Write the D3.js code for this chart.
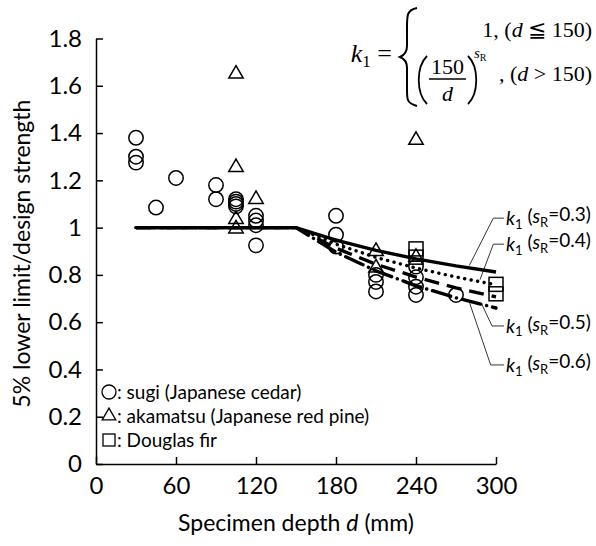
<!DOCTYPE html>
<html><head><meta charset="utf-8">
<script src="https://cdn.jsdelivr.net/npm/d3@7"></script>
<style>body{margin:0;background:#fff}svg{display:block}text{font-family:Lato,"Noto Sans",sans-serif;fill:#000}</style>
</head><body><svg id="c" width="596" height="546"></svg>
<script>
// ---- data ----
const xTicks = [0, 60, 120, 180, 240, 300];
const yTicks = [0, 0.2, 0.4, 0.6, 0.8, 1, 1.2, 1.4, 1.6, 1.8];
const sugiDepth = [30, 30, 30, 45, 60, 90, 90, 105, 105, 105, 105, 120, 120, 120, 120, 180, 180, 180, 210, 210, 210, 240, 240, 240, 240, 270];
const sugiValue = [1.38, 1.30, 1.275, 1.085, 1.21, 1.18, 1.12, 1.12, 1.11, 1.10, 1.09, 1.05, 1.03, 1.01, 0.925, 1.05, 0.97, 0.92, 0.80, 0.77, 0.73, 0.835, 0.79, 0.75, 0.715, 0.715];
const akaDepth = [105, 105, 105, 105, 120, 210, 210, 240, 240];
const akaValue = [1.65, 1.255, 1.035, 0.995, 1.12, 0.90, 0.83, 1.37, 0.875];
const firDepth = [240, 240, 300, 300];
const firValue = [0.91, 0.875, 0.76, 0.72];
const curveDepth = [30, 150, 180, 210, 240, 270, 300];
const k1_s03 = [1, 1, 0.947, 0.904, 0.868, 0.838, 0.812];
const k1_s04 = [1, 1, 0.930, 0.874, 0.829, 0.791, 0.758];
const k1_s05 = [1, 1, 0.913, 0.845, 0.791, 0.745, 0.707];
const k1_s06 = [1, 1, 0.896, 0.817, 0.754, 0.703, 0.660];
const sRLabels = ["0.3", "0.4", "0.5", "0.6"];
const legendLabels = [": sugi (Japanese cedar)", ": akamatsu (Japanese red pine)", ": Douglas fir"];

// ---- chart ----
const svg = d3.select("#c");
const x = d3.scaleLinear().domain([0, 300]).range([96, 496]);
const y = d3.scaleLinear().domain([0, 1.8]).range([464, 38.5]);
const TFS = 24, AFS = 23, LFS = 19;

const xAxis = svg.append("g").attr("transform", `translate(0,${y(0)})`)
  .call(d3.axisBottom(x).tickValues(xTicks).tickSizeInner(-7).tickSizeOuter(0).tickPadding(13));
const yAxis = svg.append("g").attr("transform", `translate(${x(0)},0)`)
  .call(d3.axisLeft(y).tickValues(yTicks).tickSizeInner(-7).tickSizeOuter(0).tickPadding(14)
    .tickFormat(d => String(+d.toFixed(1))));
[xAxis, yAxis].forEach(g => {
  g.selectAll("path,line").attr("stroke", "#000").attr("stroke-width", 1.5);
  g.selectAll("text").attr("font-family", "Lato").attr("font-size", TFS).attr("fill", "#000");
});

// curves
const line = d3.line().x((d, i) => x(curveDepth[i])).y(d => y(d));
const curveStyles = [
  {v: k1_s03, dash: null, cap: "butt"},
  {v: k1_s04, dash: "0.1 6.5", cap: "round"},
  {v: k1_s05, dash: "15 8", cap: "butt"},
  {v: k1_s06, dash: "19 6 0.1 6", cap: "round"}
];
curveStyles.slice().reverse().forEach(c => {
  svg.append("path").attr("d", line(c.v)).attr("fill", "none").attr("stroke", "#000")
    .attr("stroke-width", 3.4).attr("stroke-linecap", c.cap)
    .attr("stroke-dasharray", c.dash);
});
svg.append("path").attr("d", line(k1_s03.slice(0, 2))).attr("stroke", "#000").attr("stroke-width", 3.4).attr("fill", "none");

// markers
const mk = svg.append("g").attr("fill", "none").attr("stroke", "#000").attr("stroke-width", 1.5);
sugiValue.forEach((v, i) => mk.append("circle").attr("cx", x(sugiDepth[i])).attr("cy", y(v)).attr("r", 7.2));
const tri = d3.symbol().type(d3.symbolTriangle).size(90);
akaValue.forEach((v, i) => mk.append("path").attr("d", tri()).attr("transform", `translate(${x(akaDepth[i])},${y(v)})`));
firValue.forEach((v, i) => mk.append("rect").attr("x", x(firDepth[i]) - 7).attr("y", y(v) - 7).attr("width", 14).attr("height", 14));

// annotations for sR curves
const annot = [
  [[280, 0.84], [298, 1.04], [306, 1.04]],
  [[288, 0.78], [298, 0.93], [306, 0.93]],
  [[289, 0.68], [297, 0.584], [306, 0.584]],
  [[280, 0.685], [296, 0.419], [306, 0.419]]
];
const aLine = d3.line().x(d => x(d[0])).y(d => y(d[1]));
annot.forEach((p, i) => {
  svg.append("path").attr("d", aLine(p))
    .attr("fill", "none").attr("stroke", "#000").attr("stroke-width", 0.8);
  const t = svg.append("text").attr("x", x(307.5)).attr("y", y(p[2][1])).attr("dy", "0.35em")
    .attr("font-size", LFS);
  t.append("tspan").attr("font-style", "italic").text("k");
  t.append("tspan").attr("font-size", 13).attr("dy", "0.3em").text("1");
  t.append("tspan").attr("dy", "-0.3em").attr("font-size", LFS).text(" (");
  t.append("tspan").attr("font-style", "italic").text("s");
  t.append("tspan").attr("font-size", 13).attr("dy", "0.3em").text("R");
  t.append("tspan").attr("dy", "-0.3em").attr("font-size", LFS).text("=" + sRLabels[i] + ")");
});

// legend
const lgY = [392, 416, 440];
const lg = svg.append("g");
lg.append("circle").attr("cx", 109).attr("cy", lgY[0]).attr("r", 7).attr("fill", "none").attr("stroke", "#000").attr("stroke-width", 1.3);
lg.append("path").attr("d", d3.symbol().type(d3.symbolTriangle).size(80)()).attr("transform", `translate(109,${lgY[1]})`).attr("fill", "none").attr("stroke", "#000").attr("stroke-width", 1.3);
lg.append("rect").attr("x", 103).attr("y", lgY[2] - 6).attr("width", 12).attr("height", 12).attr("fill", "none").attr("stroke", "#000").attr("stroke-width", 1.3);
legendLabels.forEach((l, i) => lg.append("text").attr("x", 117).attr("y", lgY[i]).attr("dy", "0.35em").attr("font-size", 19).text(l));

// axis titles
const xt = svg.append("text").attr("x", x(150)).attr("y", 531).attr("text-anchor", "middle").attr("font-size", AFS);
xt.append("tspan").text("Specimen depth ");
xt.append("tspan").attr("font-style", "italic").text("d");
xt.append("tspan").text(" (mm)");
svg.append("text").attr("transform", `translate(22,${y(0.89)}) rotate(-90)`).attr("text-anchor", "middle")
  .attr("dy", "0.35em").attr("font-size", AFS).text("5% lower limit/design strength");

// formula
const F = svg.append("g").style("font-family", "'Liberation Serif','DejaVu Serif',serif");
const kt = F.append("text").attr("x", 392).attr("y", 62).attr("text-anchor", "end").attr("font-size", 26).style("font-family", "inherit");
kt.append("tspan").attr("font-style", "italic").text("k");
kt.append("tspan").attr("font-size", 17).attr("dy", 5).text("1");
kt.append("tspan").attr("dy", -5).text(" =");
F.append("path").attr("d", "M417,8 C407,10 407,15 407,27 L407,46 C407,52 405,55 400,57 C405,59 407,62 407,68 L407,90 C407,100 407,103 417,106")
  .attr("fill", "none").attr("stroke", "#000").attr("stroke-width", 2);
const r1 = F.append("text").attr("x", 592).attr("y", 37).attr("text-anchor", "end").attr("font-size", 22).style("font-family", "inherit");
r1.append("tspan").text("1, (");
r1.append("tspan").attr("font-style", "italic").text("d");
r1.append("tspan").text(" ≦ 150)");
const r2 = F.append("text").attr("x", 592).attr("y", 81).attr("text-anchor", "end").attr("font-size", 22).style("font-family", "inherit");
r2.append("tspan").text(", (");
r2.append("tspan").attr("font-style", "italic").text("d");
r2.append("tspan").text(" > 150)");
F.append("path").attr("d", "M427,56 C416,67 416,93 427,104").attr("fill", "none").attr("stroke", "#000").attr("stroke-width", 1.8);
F.append("path").attr("d", "M468,56 C479,67 479,93 468,104").attr("fill", "none").attr("stroke", "#000").attr("stroke-width", 1.8);
F.append("text").attr("x", 447.5).attr("y", 74).attr("text-anchor", "middle").attr("font-size", 22).style("font-family", "inherit").text("150");
F.append("line").attr("x1", 429).attr("x2", 466).attr("y1", 79).attr("y2", 79).attr("stroke", "#000").attr("stroke-width", 1.5);
F.append("text").attr("x", 447.5).attr("y", 101).attr("text-anchor", "middle").attr("font-size", 22).attr("font-style", "italic").style("font-family", "inherit").text("d");
const sr = F.append("text").attr("x", 474).attr("y", 58).attr("font-size", 15).style("font-family", "inherit");
sr.append("tspan").attr("font-style", "italic").text("s");
sr.append("tspan").attr("font-size", 10).attr("dy", 3).text("R");
</script></body></html>
